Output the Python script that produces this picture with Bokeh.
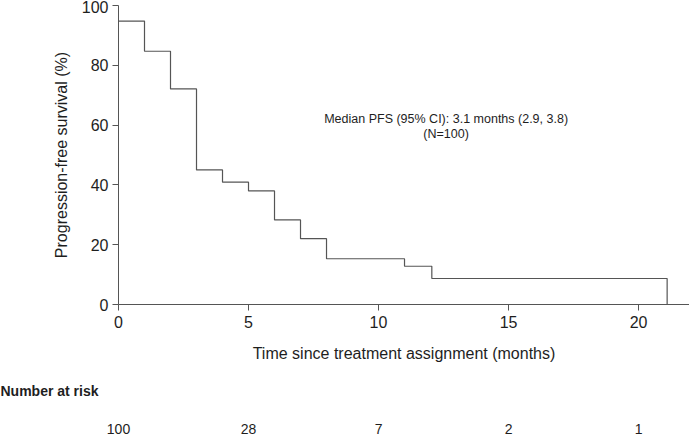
from bokeh.plotting import figure
from bokeh.models import Range1d, FixedTicker, LinearAxis, Title
from bokeh.core.properties import value
from bokeh.embed import file_html
from bokeh.resources import INLINE

# ---- data ----
times = [0, 1, 2, 3, 4, 5, 6, 7, 8, 11, 12.05, 21.1]
surv = [94.8, 84.7, 72.1, 45.0, 40.9, 38.0, 28.3, 22.0, 15.3, 12.8, 8.7, 0]
risk_times = [0, 5, 10, 15, 20]
risk_counts = ["100", "28", "7", "2", "1"]
x_ticks = [0, 5, 10, 15, 20]
y_ticks = [0, 20, 40, 60, 80, 100]
annot_lines = ["Median PFS (95% CI): 3.1 months (2.9, 3.8)", "(N=100)"]
annot_x = [12.6, 12.6]
annot_y = [62.0, 57.1]

FONT = "Liberation Sans"
TXT = "#1e1e1e"
LINE = "#555555"

W = 689
H = 438
LEFT = 118
XMAX = 21.96
TOP = 5
FRAME_H = 299
BOTTOM = H - TOP - FRAME_H

p = figure(width=W, height=H, x_range=Range1d(0, XMAX), y_range=Range1d(0, 100),
           output_backend="svg", toolbar_location=None,
           min_border_left=LEFT, min_border_right=0, min_border_top=TOP, min_border_bottom=BOTTOM)
p.grid.visible = False
p.outline_line_color = None

p.step(times, surv, mode="after", line_color=LINE, line_width=1.2)

p.text(x=annot_x, y=annot_y, text=annot_lines, text_align="center", text_baseline="middle",
       text_font=value(FONT), text_font_size="12.5px", text_color=TXT)

for ax in (p.xaxis[0], p.yaxis[0]):
    ax.axis_line_color = LINE
    ax.major_tick_line_color = LINE
    ax.major_tick_out = 6
    ax.major_tick_in = 0
    ax.minor_tick_line_color = None
    ax.major_label_text_font = FONT
    ax.major_label_text_font_size = "16px"
    ax.major_label_text_color = TXT
    ax.axis_label_text_font = FONT
    ax.axis_label_text_font_size = "16px"
    ax.axis_label_text_font_style = "normal"
    ax.axis_label_text_color = TXT

p.xaxis.ticker = FixedTicker(ticks=x_ticks)
p.yaxis.ticker = FixedTicker(ticks=y_ticks)
p.xaxis.axis_label = "Time since treatment assignment (months)"
p.yaxis.axis_label = "Progression-free survival (%)"
p.xaxis.major_label_standoff = 5
p.xaxis.axis_label_standoff = 14
p.yaxis.major_label_standoff = 4
p.yaxis.axis_label_standoff = 9

# ---- number at risk table ----
risk_title = Title(text="Number at risk", align="left", offset=-LEFT, standoff=32,
                   text_font=FONT, text_font_size="14px", text_font_style="bold", text_color=TXT)
p.add_layout(risk_title, "below")

risk_axis = LinearAxis(ticker=FixedTicker(ticks=risk_times),
                       major_label_overrides={t: n for t, n in zip(risk_times, risk_counts)},
                       axis_line_color=None, major_tick_line_color=None, minor_tick_line_color=None,
                       major_tick_out=0, major_tick_in=0, major_label_standoff=9,
                       major_label_text_font=FONT, major_label_text_font_size="14px",
                       major_label_text_color=TXT)
p.add_layout(risk_axis, "below")

open("out.html", "w").write(file_html(p, INLINE))
